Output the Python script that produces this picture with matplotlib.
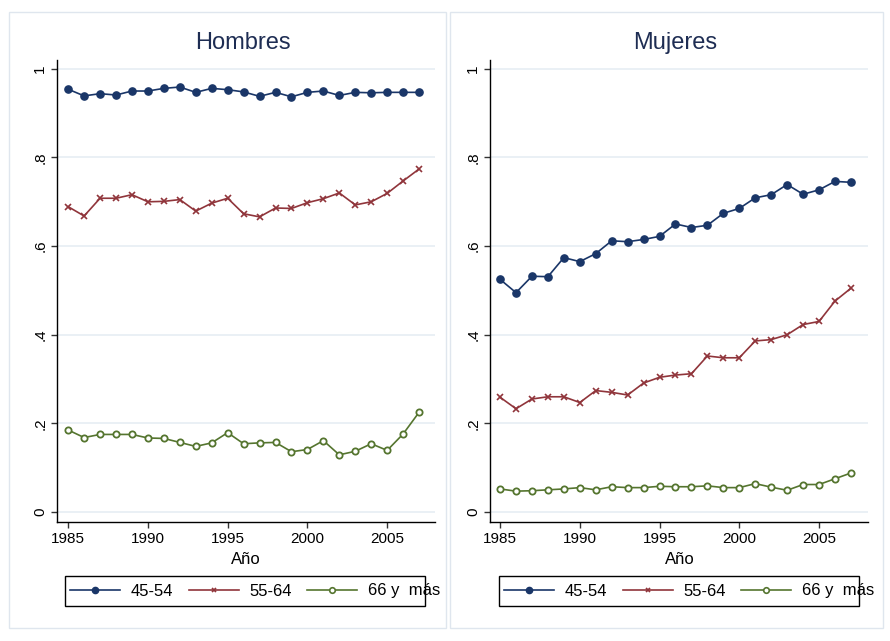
import matplotlib
matplotlib.use("Agg")
import matplotlib.pyplot as plt
from matplotlib.patches import Rectangle
from matplotlib.lines import Line2D

plt.rcParams['font.family'] = ['Liberation Sans', 'DejaVu Sans']

years = list(range(1985, 2008))

hombres_45_54 = [0.954, 0.939, 0.944, 0.941, 0.950, 0.950, 0.956, 0.959, 0.947, 0.956, 0.953, 0.948,
                 0.938, 0.947, 0.937, 0.947, 0.950, 0.940, 0.947, 0.946, 0.947, 0.947, 0.947]
hombres_55_64 = [0.689, 0.668, 0.708, 0.708, 0.716, 0.700, 0.701, 0.705, 0.679, 0.697, 0.708, 0.673,
                 0.666, 0.686, 0.685, 0.698, 0.707, 0.720, 0.693, 0.700, 0.719, 0.747, 0.774]
hombres_66 = [0.185, 0.168, 0.175, 0.175, 0.175, 0.167, 0.166, 0.157, 0.148, 0.156, 0.179, 0.154,
              0.156, 0.157, 0.136, 0.141, 0.161, 0.129, 0.137, 0.154, 0.139, 0.176, 0.225]

mujeres_45_54 = [0.525, 0.495, 0.532, 0.531, 0.574, 0.565, 0.583, 0.612, 0.610, 0.615, 0.622, 0.650,
                 0.642, 0.647, 0.674, 0.685, 0.709, 0.716, 0.739, 0.717, 0.727, 0.746, 0.744]
mujeres_55_64 = [0.259, 0.233, 0.255, 0.260, 0.260, 0.247, 0.274, 0.270, 0.264, 0.291, 0.304, 0.309,
                 0.312, 0.352, 0.348, 0.348, 0.386, 0.389, 0.400, 0.423, 0.430, 0.476, 0.505]
mujeres_66 = [0.052, 0.047, 0.048, 0.050, 0.052, 0.055, 0.050, 0.057, 0.055, 0.055, 0.058, 0.057,
              0.057, 0.059, 0.055, 0.055, 0.064, 0.056, 0.049, 0.062, 0.062, 0.075, 0.088]

series_labels = ["45-54", "55-64", "66 y  más"]
panel_titles = ["Hombres", "Mujeres"]
xticks = [1985, 1990, 1995, 2000, 2005]
yticks = [0, 0.2, 0.4, 0.6, 0.8, 1]
ytick_labels = ["0", ".2", ".4", ".6", ".8", "1"]

NAVY = "#1a3668"
MAROON = "#90353b"
GREEN = "#55752f"
GRID = "#e6edf3"
BORDER = "#dfe6ee"
TITLE = "#1e2d53"

W, H = 890, 641
fig = plt.figure(figsize=(8.9, 6.41), dpi=100)
fig.patch.set_facecolor("white")

def fx(px):
    return px / W

def fy(py):
    return 1 - py / H

# panel borders
for (x0, x1) in [(9, 446), (450, 883)]:
    fig.patches.append(Rectangle((fx(x0), fy(628)), fx(x1 - x0), (628 - 12) / H,
                                 transform=fig.transFigure, fill=False,
                                 edgecolor=BORDER, linewidth=1.0))

# (axis left px, axis right px, series..., title x, xlabel x, legend box left, legend box right, xlim left)
panels = [
    (57, 435, hombres_45_54, hombres_55_64, hombres_66, 243, 246, 65, 425, 1984.3),
    (490, 868, mujeres_45_54, mujeres_55_64, mujeres_66, 675, 680, 499, 859, 1984.37),
]

for i, (ax0, ax1, s1, s2, s3, tx, lx, b0, b1, xl) in enumerate(panels):
    ax = fig.add_axes([fx(ax0), fy(522), fx(ax1 - ax0), (522 - 60) / H])
    ax.set_xlim(xl, xl + (ax1 - ax0) / 15.95)
    ax.set_ylim(-0.0226, 1.02)
    for yv in yticks:
        ax.axhline(yv, color=GRID, linewidth=1.2, zorder=0)
    ax.plot(years, s1, color=NAVY, linewidth=1.2, marker='o', markersize=5.2,
            markerfacecolor=NAVY, markeredgecolor=NAVY, zorder=3)
    ax.plot(years, s2, color=MAROON, linewidth=1.2, marker='x', markersize=4,
            markeredgewidth=1.2, zorder=3)
    ax.plot(years, s3, color=GREEN, linewidth=1.2, marker='o', markersize=4.5,
            markerfacecolor='white', markeredgecolor=GREEN, markeredgewidth=1.3, zorder=3)
    ax.set_xticks(xticks)
    ax.set_xticklabels([str(v) for v in xticks], fontsize=11)
    ax.set_yticks(yticks)
    ax.set_yticklabels(ytick_labels, fontsize=11, rotation=90, va='center')
    ax.tick_params(axis='both', direction='out', length=4, width=1, color='#333333', pad=3)
    for sp in ['top', 'right']:
        ax.spines[sp].set_visible(False)
    for sp in ['left', 'bottom']:
        ax.spines[sp].set_color('black')
        ax.spines[sp].set_linewidth(1.0)
    fig.text(fx(tx), fy(43), panel_titles[i], fontsize=17, color=TITLE, ha='center', va='center')
    fig.text(fx(lx), fy(559), "Año", fontsize=12, color='black', ha='center', va='center')

    # legend box (drawn separately, text may overflow as in the reference)
    fig.patches.append(Rectangle((fx(b0), fy(606)), fx(b1 - b0), (606 - 576) / H,
                                 transform=fig.transFigure, fill=False,
                                 edgecolor='black', linewidth=1.0))
    handles = [
        Line2D([], [], color=NAVY, linewidth=1.2, marker='o', markersize=4.5, markerfacecolor=NAVY),
        Line2D([], [], color=MAROON, linewidth=1.2, marker='x', markersize=3.5, markeredgewidth=1.2),
        Line2D([], [], color=GREEN, linewidth=1.2, marker='o', markersize=4,
               markerfacecolor='white', markeredgecolor=GREEN, markeredgewidth=1.2),
    ]
    fig.legend(handles, series_labels, loc='center left',
               bbox_to_anchor=(fx(b0 + 5), fy(591)), ncol=3, fontsize=12,
               frameon=False, handlelength=3.0, borderpad=0, borderaxespad=0,
               handletextpad=0.66, columnspacing=0.9)

fig.savefig("out.png", dpi=100, facecolor="white")
